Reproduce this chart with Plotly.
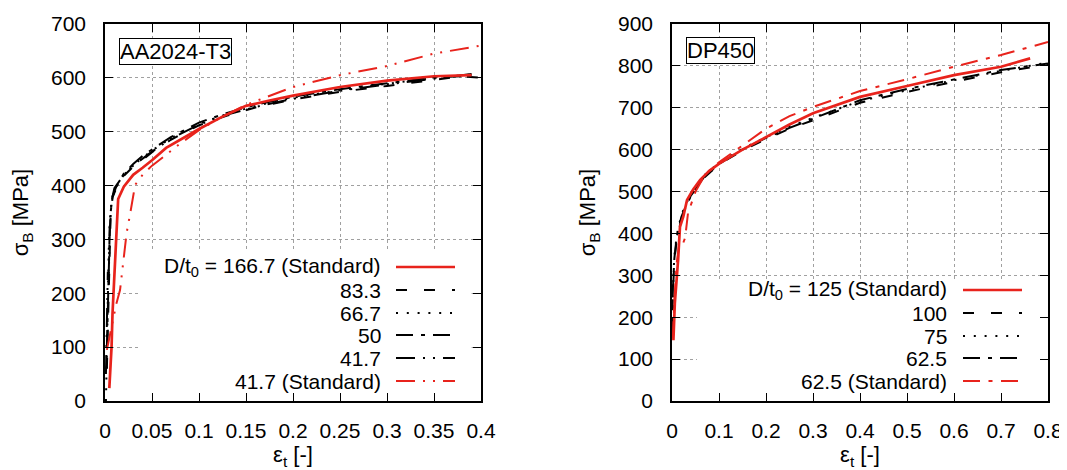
import plotly.graph_objects as go

# ---------------- data: AA2024-T3 (left) ----------------
aa_std1667_x = [0.0046, 0.006, 0.007, 0.008, 0.0095, 0.0106, 0.0124, 0.014, 0.02, 0.03, 0.04, 0.05, 0.065, 0.08, 0.1, 0.125, 0.15, 0.175, 0.2, 0.25, 0.3, 0.35, 0.39]
aa_std1667_y = [24, 60, 101, 163, 215, 256, 342, 375, 398, 420, 433, 447, 470, 485, 505, 528, 548, 558, 567, 583, 595, 603, 605]

aa_833_x = [0.002, 0.003, 0.004, 0.005, 0.006, 0.008, 0.012, 0.02, 0.03, 0.04, 0.05, 0.07, 0.1, 0.13, 0.16, 0.2, 0.25, 0.3, 0.35, 0.38, 0.4]
aa_833_y = [60, 140, 230, 300, 345, 378, 395, 418, 435, 448, 462, 485, 512, 530, 545, 560, 574, 585, 596, 603, 600]

aa_667_x = [0.001, 0.002, 0.003, 0.004, 0.005, 0.007, 0.01, 0.02, 0.03, 0.04, 0.05, 0.07, 0.1, 0.13, 0.16, 0.2, 0.25, 0.3, 0.35, 0.39]
aa_667_y = [0, 120, 220, 280, 330, 370, 392, 420, 438, 452, 465, 488, 515, 533, 548, 563, 577, 589, 600, 606]

aa_50_x = [0.002, 0.003, 0.004, 0.005, 0.006, 0.008, 0.012, 0.02, 0.03, 0.04, 0.05, 0.07, 0.1, 0.13, 0.16, 0.2, 0.25, 0.3, 0.35, 0.39]
aa_50_y = [100, 180, 250, 310, 350, 380, 398, 422, 440, 455, 467, 490, 517, 535, 550, 565, 579, 590, 601, 604]

aa_417_x = [0.001, 0.002, 0.003, 0.004, 0.005, 0.007, 0.01, 0.02, 0.03, 0.04, 0.05, 0.07, 0.1, 0.13, 0.16, 0.2, 0.25, 0.3, 0.35, 0.39]
aa_417_y = [50, 150, 240, 230, 320, 372, 395, 420, 437, 450, 463, 487, 513, 532, 546, 561, 576, 588, 599, 607]

aa_std417_x = [0.002, 0.005, 0.0087, 0.012, 0.016, 0.021, 0.023, 0.027, 0.03, 0.032, 0.04, 0.05, 0.062, 0.08, 0.1, 0.125, 0.15, 0.175, 0.2, 0.25, 0.3, 0.35, 0.4]
aa_std417_y = [95, 120, 150, 180, 206, 286, 312, 350, 382, 401, 420, 437, 453, 478, 503, 528, 550, 566, 583, 605, 622, 645, 660]

# ---------------- data: DP450 (right) ----------------
dp_std125_x = [0.003, 0.006, 0.013, 0.017, 0.024, 0.032, 0.045, 0.06, 0.08, 0.102, 0.15, 0.202, 0.25, 0.3, 0.4, 0.5, 0.6, 0.7, 0.762]
dp_std125_y = [145, 233, 337, 416, 440, 480, 505, 528, 550, 568, 600, 632, 660, 687, 726, 752, 778, 798, 818]

dp_100_x = [0.0, 0.002, 0.005, 0.01, 0.02, 0.04, 0.07, 0.1, 0.15, 0.2, 0.25, 0.3, 0.4, 0.5, 0.6, 0.7, 0.8]
dp_100_y = [150, 260, 335, 385, 435, 490, 535, 565, 598, 625, 650, 670, 712, 738, 762, 785, 803]

dp_75_x = [0.0, 0.002, 0.005, 0.01, 0.02, 0.04, 0.07, 0.1, 0.15, 0.2, 0.25, 0.3, 0.4, 0.5, 0.6, 0.7, 0.8]
dp_75_y = [170, 280, 345, 395, 445, 495, 540, 568, 602, 630, 655, 676, 716, 742, 766, 788, 808]

dp_625_x = [0.0, 0.002, 0.005, 0.01, 0.02, 0.04, 0.07, 0.1, 0.15, 0.2, 0.25, 0.3, 0.4, 0.5, 0.6, 0.7, 0.8]
dp_625_y = [160, 270, 340, 392, 440, 492, 537, 566, 600, 628, 652, 674, 718, 745, 768, 790, 806]

dp_std625_x = [0.002, 0.005, 0.01, 0.015, 0.02, 0.028, 0.034, 0.05, 0.07, 0.1, 0.15, 0.2, 0.25, 0.3, 0.4, 0.5, 0.6, 0.7, 0.8]
dp_std625_y = [150, 240, 330, 370, 365, 390, 448, 500, 540, 570, 610, 650, 680, 702, 740, 768, 798, 826, 857]

# tick labels
aa_xticks = [0, 0.05, 0.1, 0.15, 0.2, 0.25, 0.3, 0.35, 0.4]
aa_xtext = ["0", "0.05", "0.1", "0.15", "0.2", "0.25", "0.3", "0.35", "0.4"]
dp_xticks = [0, 0.1, 0.2, 0.3, 0.4, 0.5, 0.6, 0.7, 0.8]
dp_xtext = ["0", "0.1", "0.2", "0.3", "0.4", "0.5", "0.6", "0.7", "0.8"]

# legend labels
aa_labels = ["D/t<sub>0</sub> = 166.7 (Standard)", "83.3", "66.7", "50", "41.7", "41.7 (Standard)"]
dp_labels = ["D/t<sub>0</sub> = 125 (Standard)", "100", "75", "62.5", "62.5 (Standard)"]

# ---------------- styles ----------------
RED = "#e8231c"
BLK = "#000000"
DASH = "11px,17px"
DOT = "2px,8.8px"
DASHDOT = "17px,8px,4px,8px"
DASHDOTDOT = "19px,8px,2px,8px,2px,8px"
RED_DD = "19px,8px,2px,8px,2px,8px"
RED_DASHDOT = "17px,8.5px,4px,8.5px"

aa_series = [
    (aa_std1667_x, aa_std1667_y, RED, "solid", 2.7),
    (aa_833_x, aa_833_y, BLK, DASH, 2),
    (aa_667_x, aa_667_y, BLK, DOT, 2),
    (aa_50_x, aa_50_y, BLK, DASHDOT, 2),
    (aa_417_x, aa_417_y, BLK, DASHDOTDOT, 2),
    (aa_std417_x, aa_std417_y, RED, RED_DD, 2),
]
dp_series = [
    (dp_std125_x, dp_std125_y, RED, "solid", 2.7),
    (dp_100_x, dp_100_y, BLK, DASH, 2),
    (dp_75_x, dp_75_y, BLK, DOT, 2),
    (dp_625_x, dp_625_y, BLK, DASHDOT, 2),
    (dp_std625_x, dp_std625_y, RED, RED_DASHDOT, 2),
]

# The page body keeps the browser's default 8px margin, so the figure is
# sized to fill the remaining window and reference pixels are offset by 8.
OFF = 8
W, H = 1067 - OFF, 470 - OFF
FONT = "Liberation Sans, Arial, Helvetica, sans-serif"
FS = 21      # tick labels and key
FT = 22      # axis titles and panel labels

def px(x):
    return (x - OFF) / W

def py(y):
    return 1 - (y - OFF) / H

fig = go.Figure()
for xs, ys, c, d, w in [s for s in aa_series if s[2] == BLK] + [s for s in aa_series if s[2] == RED]:
    fig.add_trace(go.Scatter(x=xs, y=ys, mode="lines", line=dict(color=c, dash=d, width=w),
                             xaxis="x", yaxis="y", showlegend=False, hoverinfo="skip"))
for xs, ys, c, d, w in [s for s in dp_series if s[2] == BLK] + [s for s in dp_series if s[2] == RED]:
    fig.add_trace(go.Scatter(x=xs, y=ys, mode="lines", line=dict(color=c, dash=d, width=w),
                             xaxis="x2", yaxis="y2", showlegend=False, hoverinfo="skip"))

xdom1 = [px(105), px(481)]
xdom2 = [px(672), px(1048)]
ydom = [py(401), py(24)]

axis_common = dict(
    showline=True, linecolor="black", linewidth=1.6, mirror="allticks",
    ticks="inside", ticklen=8, tickwidth=1.3, tickcolor="black",
    showgrid=True, gridcolor="#a0a0a0", griddash="dot", gridwidth=1,
    zeroline=False, automargin=False, tickfont=dict(family=FONT, size=FS, color="black"),
)

fig.update_layout(
    template="none",
    width=W, height=H, autosize=False, margin=dict(l=0, r=0, t=0, b=0, pad=0),
    paper_bgcolor="white", plot_bgcolor="white",
    font=dict(family=FONT, size=FS, color="black"),
    xaxis=dict(domain=xdom1, range=[0, 0.4], anchor="y", tickvals=aa_xticks, ticktext=aa_xtext,
               ticklabelstandoff=10,
               title=dict(text="ε<sub>t</sub> [-]", standoff=11, font=dict(size=FT)), **axis_common),
    yaxis=dict(domain=ydom, range=[0, 700], dtick=100, anchor="x", ticklabelstandoff=13,
               title=dict(text="σ<sub>B</sub> [MPa]", standoff=16, font=dict(size=FT)), **axis_common),
    xaxis2=dict(domain=xdom2, range=[0, 0.8], anchor="y2", tickvals=dp_xticks, ticktext=dp_xtext,
                ticklabelstandoff=10,
                title=dict(text="ε<sub>t</sub> [-]", standoff=11, font=dict(size=FT)), **axis_common),
    yaxis2=dict(domain=ydom, range=[0, 900], dtick=100, anchor="x2", ticklabelstandoff=13,
                title=dict(text="σ<sub>B</sub> [MPa]", standoff=16, font=dict(size=FT)), **axis_common),
)

shapes = []
annotations = []

# opaque key boxes (cover the grid, beneath the curves) in axis units
shapes.append(dict(type="rect", xref="x", yref="y", x0=0.038, x1=0.39, y0=10, y1=280,
                   fillcolor="white", line=dict(width=0), layer="between"))
shapes.append(dict(type="rect", xref="x2", yref="y2", x0=0.053, x1=0.787, y0=14, y1=288,
                   fillcolor="white", line=dict(width=0), layer="between"))

# left key
aa_rows = [267, 290, 313, 335, 358, 381]
for lab, row, s in zip(aa_labels, aa_rows, aa_series):
    annotations.append(dict(x=px(383), y=py(row), xref="paper", yref="paper", text=lab, showarrow=False,
                            xanchor="right", yanchor="middle", font=dict(family=FONT, size=FS, color="black")))
    shapes.append(dict(type="line", xref="paper", yref="paper", x0=px(396), x1=px(455), y0=py(row), y1=py(row),
                       line=dict(color=s[2], dash=s[3], width=s[4]), layer="above"))

# right key
dp_rows = [290, 313, 336, 358, 381]
for lab, row, s in zip(dp_labels, dp_rows, dp_series):
    annotations.append(dict(x=px(949), y=py(row), xref="paper", yref="paper", text=lab, showarrow=False,
                            xanchor="right", yanchor="middle", font=dict(family=FONT, size=FS, color="black")))
    shapes.append(dict(type="line", xref="paper", yref="paper", x0=px(963), x1=px(1022), y0=py(row), y1=py(row),
                       line=dict(color=s[2], dash=s[3], width=s[4]), layer="above"))

# material labels
annotations.append(dict(x=px(119), y=py(38), xref="paper", yref="paper", text="AA2024-T3", showarrow=False,
                        xanchor="left", yanchor="top", bgcolor="white", bordercolor="black", borderwidth=1,
                        borderpad=0, font=dict(family=FONT, size=FT, color="black")))
annotations.append(dict(x=px(686), y=py(37), xref="paper", yref="paper", text="DP450", showarrow=False,
                        xanchor="left", yanchor="top", bgcolor="white", bordercolor="black", borderwidth=1,
                        borderpad=0, font=dict(family=FONT, size=FT, color="black")))

fig.update_layout(shapes=shapes, annotations=annotations)
fig.write_html("out.html", config={"displayModeBar": False, "responsive": False},
               post_script="document.documentElement.style.overflow='hidden';")
